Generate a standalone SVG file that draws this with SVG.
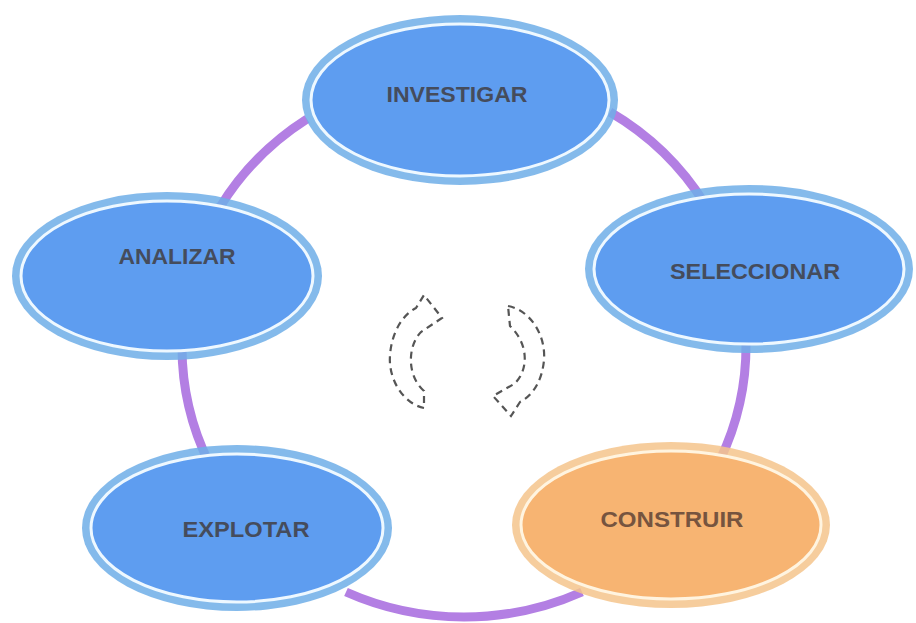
<svg xmlns="http://www.w3.org/2000/svg" width="916" height="623" viewBox="0 0 916 623">
<style>
.ring{fill:#6eaee8}
.core{fill:#5e9df0;stroke:#eef8ff;stroke-width:3}
.ringO{fill:#f4c48c}
.coreO{fill:#f7b472;stroke:#fff4e0;stroke-width:3}
.lbl{font-family:"Liberation Sans",Arial,sans-serif;font-weight:bold;font-size:22px;fill:#454c5c;text-anchor:middle}
.lblO{fill:#76543f}
.conn{fill:none;stroke:#b37fe3;stroke-width:9;stroke-linecap:butt}
.cyc{fill:none;stroke:#555;stroke-width:2.2;stroke-dasharray:7 5}
</style>
<rect width="916" height="623" fill="#fff"/>
<g id="connectors">
<path class="conn" d="M220,207 A282,272 0 0 1 307,119"/>
<path class="conn" d="M610,112 A282,272 0 0 1 705,204"/>
<path class="conn" d="M746,344 A282,272 0 0 1 720,460"/>
<path class="conn" d="M582,592 A282,272 0 0 1 346,592"/>
<path class="conn" d="M209,463 A282,272 0 0 1 182,347"/>
</g>
<g id="nodes">
<g id="investigar">
<ellipse class="ring" cx="460" cy="100" rx="158" ry="85" fill-opacity="0.85"/>
<ellipse class="core" cx="460" cy="100" rx="149" ry="76"/>
<text class="lbl" x="457" y="102" textLength="141" lengthAdjust="spacingAndGlyphs">INVESTIGAR</text>
</g>
<g id="seleccionar">
<ellipse class="ring" cx="749" cy="269" rx="164" ry="84" fill-opacity="0.85"/>
<ellipse class="core" cx="749" cy="269" rx="155" ry="75"/>
<text class="lbl" x="755" y="279" textLength="170" lengthAdjust="spacingAndGlyphs">SELECCIONAR</text>
</g>
<g id="construir">
<ellipse class="ringO" cx="671" cy="525" rx="159" ry="83" fill-opacity="0.85"/>
<ellipse class="coreO" cx="671" cy="525" rx="150" ry="74"/>
<text class="lbl lblO" x="672" y="527" textLength="143" lengthAdjust="spacingAndGlyphs">CONSTRUIR</text>
</g>
<g id="explotar">
<ellipse class="ring" cx="237" cy="528" rx="155" ry="83" fill-opacity="0.85"/>
<ellipse class="core" cx="237" cy="528" rx="146" ry="74"/>
<text class="lbl" x="246" y="537" textLength="127" lengthAdjust="spacingAndGlyphs">EXPLOTAR</text>
</g>
<g id="analizar">
<ellipse class="ring" cx="167" cy="276" rx="155" ry="84" fill-opacity="0.85"/>
<ellipse class="core" cx="167" cy="276" rx="146" ry="75"/>
<text class="lbl" x="177" y="264" textLength="117" lengthAdjust="spacingAndGlyphs">ANALIZAR</text>
</g>
</g>
<g id="cycle-arrows">
<path class="cyc" d="M424,408 C404,404 388,380 390,355 C392,330 404,314 416,308 L424,295 L442,318 L421,332 C408,345 406,375 424,391 Z"/>
<path class="cyc" d="M508,306 C530,310 546,335 544,360 C542,382 532,396 520,402 L511,416 L493,396 L514,384 C528,372 530,345 510,326 Z"/>
</g>
</svg>
